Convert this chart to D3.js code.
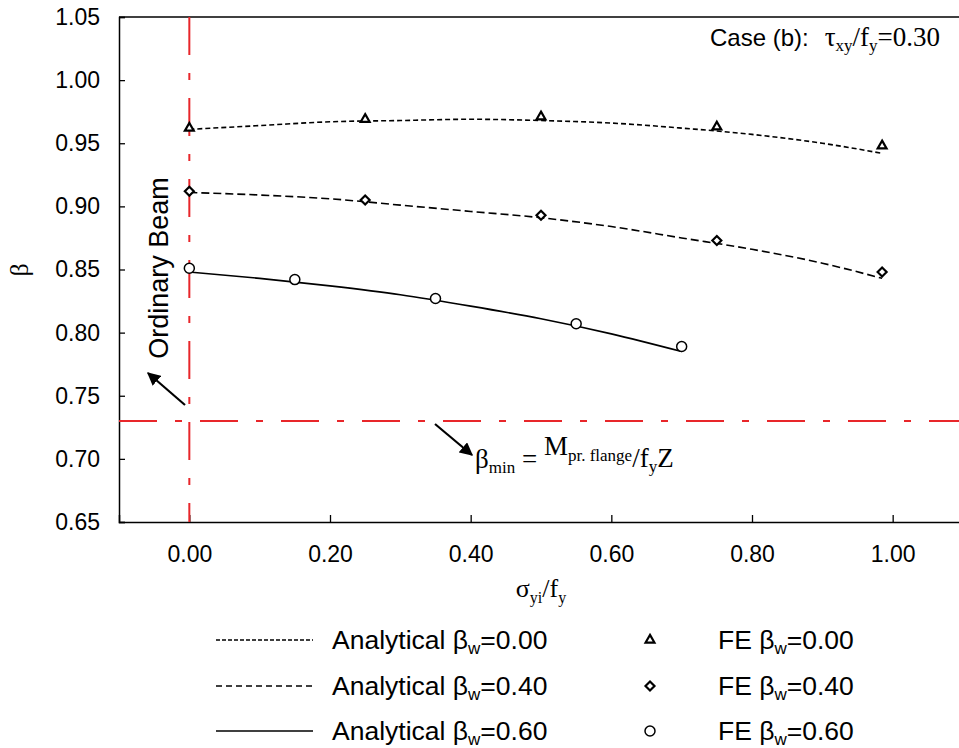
<!DOCTYPE html>
<html>
<head>
<meta charset="utf-8">
<script src="https://cdn.jsdelivr.net/npm/d3@7"></script>
<style>
  body { margin: 0; background: #fff; }
  text { font-family: "Liberation Sans", Arial, sans-serif; }
  .serif { font-family: "Liberation Serif", "Times New Roman", serif; }
</style>
</head>
<body>
<div id="chart"></div>
<script>
// analytical curves
var anaX = [0, 0.1, 0.2, 0.3, 0.4, 0.5, 0.6, 0.7, 0.8, 0.9, 0.985];
var ana000 = [0.961, 0.964, 0.967, 0.968, 0.969, 0.968, 0.966, 0.962, 0.957, 0.950, 0.942];
var ana040 = [0.911, 0.909, 0.906, 0.901, 0.896, 0.891, 0.884, 0.875, 0.866, 0.855, 0.843];
var ana060X = [0, 0.1, 0.2, 0.3, 0.4, 0.5, 0.6, 0.7];
var ana060 = [0.848, 0.843, 0.837, 0.830, 0.821, 0.811, 0.799, 0.785];

// FE results
var fe000X = [0, 0.25, 0.5, 0.75, 0.985];
var fe000 = [0.962, 0.969, 0.971, 0.963, 0.948];
var fe040X = [0, 0.25, 0.5, 0.75, 0.985];
var fe040 = [0.912, 0.905, 0.893, 0.873, 0.848];
var fe060X = [0, 0.15, 0.35, 0.55, 0.7];
var fe060 = [0.851, 0.842, 0.827, 0.807, 0.789];

var xTicks = [0, 0.2, 0.4, 0.6, 0.8, 1.0];
var yTicks = [0.65, 0.70, 0.75, 0.80, 0.85, 0.90, 0.95, 1.00, 1.05];
var betaMin = 0.73;
var ordinaryX = 0;

var W = 959, H = 748;
var mLeft = 119, mTop = 17, mRight = 963, mBottom = 522;
var red = "#e8262a";

var svg = d3.select("#chart").append("svg")
  .attr("width", W).attr("height", H);

var x = d3.scaleLinear().domain([-0.1, 1.1]).range([mLeft, mRight]);
var y = d3.scaleLinear().domain([0.65, 1.05]).range([mBottom, mTop]);

// axes
var yAxis = d3.axisLeft(y).tickValues(yTicks).tickSize(-6).tickPadding(19)
  .tickFormat(d3.format(".2f"));
var xAxis = d3.axisBottom(x).tickValues(xTicks).tickSize(-7).tickPadding(24)
  .tickFormat(d3.format(".2f"));

var gy = svg.append("g").attr("transform", "translate(" + mLeft + ",0)").call(yAxis);
var gx = svg.append("g").attr("transform", "translate(0," + mBottom + ")").call(xAxis);
[gx, gy].forEach(function(g) {
  g.select(".domain").attr("stroke", "#000").attr("stroke-width", 1.5);
  g.selectAll(".tick line").attr("stroke", "#000").attr("stroke-width", 1.3);
  g.selectAll(".tick text").attr("fill", "#000").style("font-size", "23px")
    .style("font-family", "'Liberation Sans', Arial, sans-serif");
});
// top border
svg.append("line").attr("x1", mLeft).attr("x2", W).attr("y1", mTop).attr("y2", mTop)
  .attr("stroke", "#000").attr("stroke-width", 1.5);

// red dash-dot reference lines
svg.append("line")
  .attr("x1", x(ordinaryX)).attr("x2", x(ordinaryX)).attr("y1", mTop).attr("y2", mBottom)
  .attr("stroke", red).attr("stroke-width", 2).attr("stroke-dasharray", "38,18,7,18");
svg.append("line")
  .attr("x1", mLeft).attr("x2", W).attr("y1", y(betaMin)).attr("y2", y(betaMin))
  .attr("stroke", red).attr("stroke-width", 2).attr("stroke-dasharray", "38,18,7,18");

// analytical curves
var line = d3.line().curve(d3.curveMonotoneX)
  .x(function(d) { return x(d[0]); })
  .y(function(d) { return y(d[1]); });

var curves = [
  { xs: anaX, ys: ana000, dash: "5,3" },
  { xs: anaX, ys: ana040, dash: "8,4" },
  { xs: ana060X, ys: ana060, dash: null }
];
curves.forEach(function(c) {
  svg.append("path")
    .datum(c.xs.map(function(v, i) { return [v, c.ys[i]]; }))
    .attr("d", line)
    .attr("fill", "none").attr("stroke", "#000").attr("stroke-width", 1.6)
    .attr("stroke-dasharray", c.dash);
});

// markers
function marker(g, kind, cx, cy) {
  if (kind === "tri") {
    g.append("path").attr("d", d3.symbol(d3.symbolTriangle, 34)())
      .attr("transform", "translate(" + cx + "," + cy + ")")
      .attr("fill", "#fff").attr("stroke", "#000").attr("stroke-width", 2.2);
  } else if (kind === "dia") {
    g.append("path").attr("d", "M0,-4.5L4.5,0L0,4.5L-4.5,0Z")
      .attr("transform", "translate(" + cx + "," + cy + ")")
      .attr("fill", "#fff").attr("stroke", "#000").attr("stroke-width", 2.2);
  } else {
    g.append("circle").attr("cx", cx).attr("cy", cy).attr("r", 5)
      .attr("fill", "#fff").attr("stroke", "#000").attr("stroke-width", 1.5);
  }
}
var feSets = [
  { xs: fe000X, ys: fe000, kind: "tri" },
  { xs: fe040X, ys: fe040, kind: "dia" },
  { xs: fe060X, ys: fe060, kind: "circ" }
];
feSets.forEach(function(s) {
  s.xs.forEach(function(v, i) { marker(svg, s.kind, x(v), y(s.ys[i])); });
});

// arrows
svg.append("defs").append("marker")
  .attr("id", "ah").attr("viewBox", "0 0 10 10").attr("refX", 9).attr("refY", 5)
  .attr("markerWidth", 6).attr("markerHeight", 6).attr("orient", "auto")
  .attr("markerUnits", "strokeWidth")
  .append("path").attr("d", "M0,0L10,5L0,10Z").attr("fill", "#000");
svg.append("line").attr("x1", 185).attr("y1", 405).attr("x2", 148).attr("y2", 373)
  .attr("stroke", "#000").attr("stroke-width", 2.2).attr("marker-end", "url(#ah)");
svg.append("line").attr("x1", 435).attr("y1", 424).attr("x2", 472).attr("y2", 455)
  .attr("stroke", "#000").attr("stroke-width", 2.2).attr("marker-end", "url(#ah)");

// Ordinary Beam label
svg.append("text")
  .attr("transform", "translate(168,268) rotate(-90)")
  .attr("text-anchor", "middle").style("font-size", "27px").text("Ordinary Beam");

// beta_min annotation
var bm = svg.append("text").attr("class", "serif").attr("x", 475).attr("y", 468)
  .style("font-size", "27px");
bm.append("tspan").text("β");
bm.append("tspan").attr("dy", 5).style("font-size", "17px").text("min");
bm.append("tspan").attr("dy", -5).text(" = ");
bm.append("tspan").attr("dy", -13).text("M");
bm.append("tspan").attr("dy", 6).style("font-size", "17px").text("pr. flange");
bm.append("tspan").attr("dy", 6).text("/f");
bm.append("tspan").attr("dy", 5).style("font-size", "17px").text("y");
bm.append("tspan").attr("dy", -5).text("Z");

// case annotation
var ct = svg.append("text").attr("x", 940).attr("y", 46)
  .attr("text-anchor", "end").style("font-size", "24px");
ct.append("tspan").text("Case (b):");
ct.append("tspan").attr("class", "serif").attr("dx", 16).style("font-size", "27px").text("τ");
ct.append("tspan").attr("class", "serif").attr("dy", 5).style("font-size", "17px").text("xy");
ct.append("tspan").attr("class", "serif").attr("dy", -5).style("font-size", "27px").text("/f");
ct.append("tspan").attr("class", "serif").attr("dy", 5).style("font-size", "17px").text("y");
ct.append("tspan").attr("class", "serif").attr("dy", -5).style("font-size", "27px").text("=0.30");

// axis titles
svg.append("text").attr("class", "serif")
  .attr("transform", "translate(28,270) rotate(-90)")
  .attr("text-anchor", "middle").style("font-size", "26px").text("β");
var xl = svg.append("text").attr("class", "serif").attr("x", 541).attr("y", 597)
  .attr("text-anchor", "middle").style("font-size", "26px");
xl.append("tspan").text("σ");
xl.append("tspan").attr("dy", 6).style("font-size", "16px").text("yi");
xl.append("tspan").attr("dy", -6).text("/f");
xl.append("tspan").attr("dy", 6).style("font-size", "16px").text("y");

// legend
var legAna = ["0.00", "0.40", "0.60"];
var legDash = ["4,2", "6,4", null];
var legKinds = ["tri", "dia", "circ"];
var legRowY = [640, 686, 731];
legAna.forEach(function(v, i) {
  var ly = legRowY[i];
  svg.append("line").attr("x1", 216).attr("x2", 313).attr("y1", ly).attr("y2", ly)
    .attr("stroke", "#000").attr("stroke-width", 1.6).attr("stroke-dasharray", legDash[i]);
  var t = svg.append("text").attr("x", 332).attr("y", ly + 9).style("font-size", "26.5px");
  t.append("tspan").text("Analytical β");
  t.append("tspan").attr("dy", 5).style("font-size", "17px").text("w");
  t.append("tspan").attr("dy", -5).text("=" + v);
  marker(svg, legKinds[i], 650, ly);
  var f = svg.append("text").attr("x", 718).attr("y", ly + 9).style("font-size", "26.5px");
  f.append("tspan").text("FE β");
  f.append("tspan").attr("dy", 5).style("font-size", "17px").text("w");
  f.append("tspan").attr("dy", -5).text("=" + v);
});
</script>
</body>
</html>
